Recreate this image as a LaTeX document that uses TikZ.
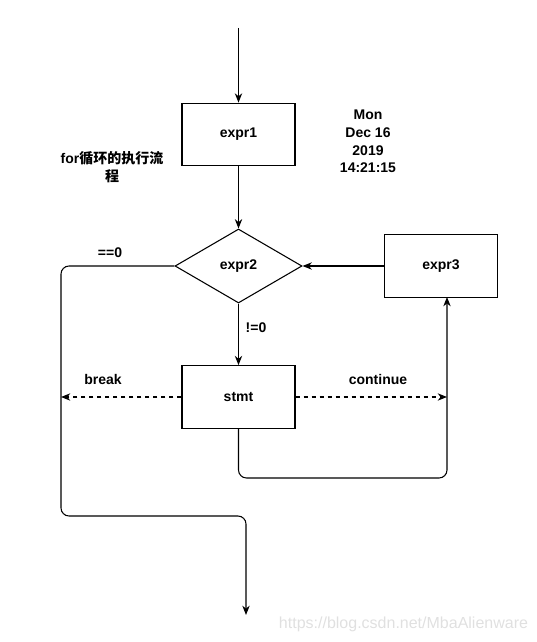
\documentclass[tikz,border=0pt]{standalone}
\usepackage{fontspec}
\setmainfont{Liberation Sans}
\newfontfamily\cjk{Noto Sans CJK SC}
\usetikzlibrary{shapes.geometric,arrows.meta}
\begin{document}
\begin{tikzpicture}[x=0.75pt,y=-0.75pt,
  every node/.style={font=\bfseries\fontsize{10.5}{13.25}\selectfont},
  boxnode/.style={draw,line width=0.8pt,minimum width=84.75pt,minimum height=47pt,inner sep=0pt},
  decnode/.style={draw,diamond,line width=0.8pt,minimum width=95.25pt,minimum height=55.5pt,inner sep=0pt,aspect=1.7},
  lbl/.style={inner sep=0pt,align=center},
  conn/.style={line width=0.8pt,-{Stealth[length=7pt,width=5.5pt]}},
  dconn/.style={conn,dashed,dash pattern=on 3pt off 3pt},
  rc/.style={rounded corners=6pt}]
\useasboundingbox (0,0) rectangle (536,642);
\coordinate (start) at (238.5,28);
\node[boxnode] (e1) at (238.5,134.5) {expr1};
\node[decnode] (e2) at (238.5,266) {expr2};
\node[boxnode] (e3) at (441,266) {expr3};
\node[boxnode] (st) at (238.5,397) {stmt};
\coordinate (brk) at (61,397);
\coordinate (cnt) at (447,397);
\coordinate (endp) at (246,615);
\node[lbl] (t1) at (368,141.5) {Mon\\Dec 16\\2019\\14:21:15};
\node[lbl] (t2) at (112,167) {for{\cjk\fontsize{10.5}{13}\selectfont 循环的执行流}\\{\cjk\fontsize{10.5}{13}\selectfont 程}};
\node[lbl] (l1) at (110,253) {==0};
\node[lbl] (l2) at (256,328) {!=0};
\node[lbl] (l3) at (103,379) {break};
\node[lbl] (l4) at (378,379) {continue};
\node[inner sep=0pt,text=black!12,font=\fontsize{12}{14}\selectfont] (wm) at (403.5,624) {https://blog.csdn.net/MbaAlienware};
\draw[conn] (start) -- (e1.north);
\draw[conn] (e1) -- (e2.north);
\draw[conn] (e3) -- (e2.east);
\draw[conn] (e2) -- (st);
\draw[conn,rc] (e2.west) -- (61,266) -- (61,516) -- (246,516) -- (endp);
\draw[dconn] (st.west) -- (brk);
\draw[dconn] (st.east) -- (cnt);
\draw[conn,rc] (st.south) -- (238.5,478) -- (447,478) -- (447,297);
\end{tikzpicture}
\end{document}
